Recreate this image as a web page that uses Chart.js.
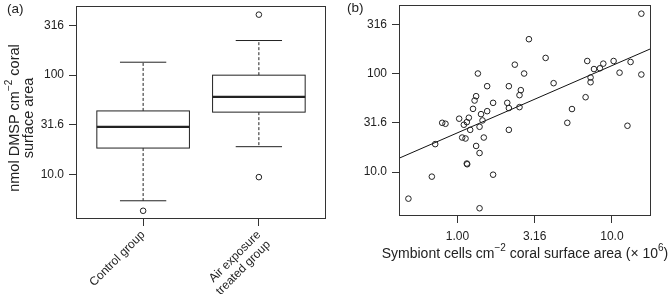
<!DOCTYPE html>
<html>
<head>
<meta charset="utf-8">
<script src="https://cdn.jsdelivr.net/npm/chart.js@4"></script>
<style>
  html, body { margin: 0; padding: 0; background: #fff; }
  #wrap { position: relative; width: 670px; height: 294px; }
  canvas { position: absolute; top: 0; }
  #chartA { left: 0; }
  #chartB { left: 335px; }
</style>
</head>
<body>
<div id="wrap">
  <canvas id="chartA" width="335" height="294"></canvas>
  <canvas id="chartB" width="335" height="294"></canvas>
</div>
<script>
// ---- data ----
const groupLabels = [['Control group'], ['Air exposure', 'treated group']];
const groupPos = [1, 2];
const boxLow = [5.46, 19.1];
const boxQ1 = [18.5, 42.5];
const boxMedian = [30.2, 60.5];
const boxQ3 = [43.7, 100];
const boxHigh = [135, 223];
const outlierGroup = [1, 2, 2];
const outlierValue = [4.33, 406, 9.44];

const yTicks = [10, 31.62, 100, 316.2];
const yTickLabels = ['10.0', '31.6', '100', '316'];
const xTicks = [1, 3.162, 10];
const xTickLabels = ['1.00', '3.16', '10.0'];

// symbiont cells (x 10^6) vs DMSP
const cells = [15.5, 2.90, 3.72, 2.35, 1.355, 2.70, 6.92, 10.25, 13.2, 8.79,
  7.65, 8.36, 11.2, 15.5, 4.19, 7.27, 7.27, 1.556, 2.15, 2.57,
  2.52, 1.32, 1.29, 1.70, 2.10, 2.15, 2.52, 1.26, 1.556, 1.42,
  6.75, 5.51, 1.025, 1.184, 1.149, 1.452, 0.796, 0.836, 1.099, 1.389,
  1.208, 5.14, 12.6, 2.15, 1.072, 1.127, 1.48, 0.717, 1.32, 1.389,
  1.149, 1.155, 1.70, 0.682, 0.481, 1.389];
const dmsp = [405, 223, 144, 123, 100, 100, 134, 134, 131, 126,
  111, 113, 102, 97.7, 79.8, 91.1, 81.6, 74.4, 74.4, 67.8,
  60.3, 58.9, 53.2, 50.4, 50.4, 44.6, 45.6, 43.8, 41.5, 38.7,
  57.5, 43.6, 34.8, 35.6, 32.1, 33.4, 31.6, 30.9, 30.2, 28.8,
  26.8, 31.6, 29.5, 26.8, 22.4, 21.9, 22.4, 19.2, 18.4, 15.6,
  12.2, 12.0, 9.40, 8.98, 5.37, 4.29];

// regression line end points (at the x-axis limits)
const fitX = [0.418, 17.9];
const fitY = [13.8, 179];

const yMin = 3.58, yMax = 496;
const xMin = 0.418, xMax = 17.9;

const INK = '#222';
const FRAME = '#333';
const FONT = '"Liberation Sans", Arial, sans-serif';

// draws text made of normal + superscript parts, centred on 0,0
function drawRich(ctx, parts, size) {
    const supSize = Math.round(size * 0.7);
    let w = 0;
    parts.forEach(p => {
        ctx.font = (p.sup ? supSize : size) + 'px ' + FONT;
        p.w = ctx.measureText(p.t).width;
        w += p.w;
    });
    let x = -w / 2;
    ctx.textAlign = 'left';
    ctx.textBaseline = 'middle';
    parts.forEach(p => {
        ctx.font = (p.sup ? supSize : size) + 'px ' + FONT;
        ctx.fillText(p.t, x, p.sup ? -size * 0.38 : 0);
        x += p.w;
    });
}

const framePlugin = {
    id: 'frame',
    afterDraw(chart) {
        const { ctx, chartArea: a } = chart;
        ctx.save();
        ctx.strokeStyle = FRAME;
        ctx.lineWidth = 1;
        ctx.strokeRect(Math.round(a.left) + 0.5, Math.round(a.top) + 0.5,
            Math.round(a.right - a.left) - 1, Math.round(a.bottom - a.top) - 1);
        ctx.restore();
    }
};

const boxPlugin = {
    id: 'boxes',
    beforeDatasetsDraw(chart) {
        const { ctx, scales: { x, y } } = chart;
        ctx.save();
        ctx.strokeStyle = INK;
        groupPos.forEach((pos, i) => {
            const xc = x.getPixelForValue(pos);
            const hw = x.getPixelForValue(pos + 0.4) - xc;
            const cw = hw / 2;
            const yLo = y.getPixelForValue(boxLow[i]);
            const y1 = y.getPixelForValue(boxQ1[i]);
            const ym = y.getPixelForValue(boxMedian[i]);
            const y3 = y.getPixelForValue(boxQ3[i]);
            const yHi = y.getPixelForValue(boxHigh[i]);

            // whiskers
            ctx.lineWidth = 1;
            ctx.setLineDash([3, 2]);
            ctx.beginPath();
            ctx.moveTo(xc, y3); ctx.lineTo(xc, yHi);
            ctx.moveTo(xc, y1); ctx.lineTo(xc, yLo);
            ctx.stroke();
            ctx.setLineDash([]);
            ctx.beginPath();
            ctx.moveTo(xc - cw, yHi); ctx.lineTo(xc + cw, yHi);
            ctx.moveTo(xc - cw, yLo); ctx.lineTo(xc + cw, yLo);
            ctx.stroke();

            // box
            ctx.fillStyle = '#fff';
            ctx.fillRect(xc - hw, y3, hw * 2, y1 - y3);
            ctx.strokeRect(xc - hw, y3, hw * 2, y1 - y3);

            // median
            ctx.lineWidth = 2.2;
            ctx.beginPath();
            ctx.moveTo(xc - hw, ym); ctx.lineTo(xc + hw, ym);
            ctx.stroke();
        });
        ctx.restore();
    }
};

const titlesA = {
    id: 'titlesA',
    afterDraw(chart) {
        const ctx = chart.ctx;
        ctx.save();
        ctx.fillStyle = INK;
        ctx.font = '13.5px ' + FONT;
        ctx.textAlign = 'left';
        ctx.textBaseline = 'middle';
        ctx.fillText('(a)', 7, 9);
        ctx.translate(15, 118);
        ctx.rotate(-Math.PI / 2);
        drawRich(ctx, [{ t: 'nmol DMSP cm' }, { t: '\u22122', sup: true }, { t: ' coral' }], 14.5);
        ctx.translate(0, 14);
        drawRich(ctx, [{ t: 'surface area' }], 14.5);
        ctx.restore();
    }
};

const titlesB = {
    id: 'titlesB',
    afterDraw(chart) {
        const ctx = chart.ctx;
        ctx.save();
        ctx.fillStyle = INK;
        ctx.font = '13.5px ' + FONT;
        ctx.textAlign = 'left';
        ctx.textBaseline = 'middle';
        ctx.fillText('(b)', 12, 8);
        ctx.translate(190, 254);
        drawRich(ctx, [
            { t: 'Symbiont cells cm' }, { t: '\u22122', sup: true },
            { t: ' coral surface area (\u00d7 10' }, { t: '6', sup: true }, { t: ')' }
        ], 14);
        ctx.restore();
    }
};

function yAxis(width) {
    return {
        type: 'logarithmic',
        min: yMin,
        max: yMax,
        afterBuildTicks(s) { s.ticks = yTicks.map(v => ({ value: v })); },
        afterFit(s) { s.width = width; s.paddingTop = 0; s.paddingBottom = 0; },
        ticks: {
            autoSkip: false,
            callback: (v, i) => yTickLabels[i],
            color: INK,
            padding: 5,
            font: { family: FONT, size: 12 }
        },
        grid: { drawOnChartArea: false, tickLength: 7, color: FRAME },
        border: { display: false }
    };
}

const outliers = outlierGroup.map((g, i) => ({ x: g, y: outlierValue[i] }));

new Chart(document.getElementById('chartA'), {
    type: 'scatter',
    data: {
        datasets: [{
            data: outliers,
            pointRadius: 2.8,
            borderColor: INK,
            backgroundColor: 'rgba(0,0,0,0)',
            borderWidth: 1
        }]
    },
    options: {
        responsive: false,
        animation: false,
        events: [],
        layout: { padding: { top: 6, right: 9, left: 0, bottom: 0 } },
        plugins: { legend: { display: false }, tooltip: { enabled: false } },
        scales: {
            x: {
                type: 'linear',
                min: 0.42,
                max: 2.58,
                afterBuildTicks(s) { s.ticks = groupPos.map(v => ({ value: v })); },
                afterFit(s) { s.height = 75; s.paddingLeft = 0; s.paddingRight = 0; },
                ticks: {
                    autoSkip: false,
                    callback: (v, i) => groupLabels[i],
                    maxRotation: 45,
                    minRotation: 45,
                    padding: 2,
                    color: INK,
                    font: { family: FONT, size: 12, lineHeight: 1.15 }
                },
                grid: { drawOnChartArea: false, tickLength: 7, color: FRAME },
                border: { display: false }
            },
            y: yAxis(76)
        }
    },
    plugins: [boxPlugin, framePlugin, titlesA]
});

const points = cells.map((c, i) => ({ x: c, y: dmsp[i] }));
const fitLine = fitX.map((v, i) => ({ x: v, y: fitY[i] }));

new Chart(document.getElementById('chartB'), {
    type: 'scatter',
    data: {
        datasets: [
            {
                data: points,
                pointRadius: 2.8,
                borderColor: INK,
                backgroundColor: 'rgba(0,0,0,0)',
                borderWidth: 1
            },
            {
                data: fitLine,
                showLine: true,
                pointRadius: 0,
                borderColor: '#111',
                borderWidth: 1
            }
        ]
    },
    options: {
        responsive: false,
        animation: false,
        events: [],
        layout: { padding: { top: 5, right: 19, left: 0, bottom: 0 } },
        plugins: { legend: { display: false }, tooltip: { enabled: false } },
        scales: {
            x: {
                type: 'logarithmic',
                min: xMin,
                max: xMax,
                afterBuildTicks(s) { s.ticks = xTicks.map(v => ({ value: v })); },
                afterFit(s) { s.height = 78; s.paddingLeft = 0; s.paddingRight = 0; },
                ticks: {
                    autoSkip: false,
                    maxRotation: 0,
                    callback: (v, i) => xTickLabels[i],
                    padding: 6,
                    color: INK,
                    font: { family: FONT, size: 12 }
                },
                grid: { drawOnChartArea: false, tickLength: 7, color: FRAME },
                border: { display: false }
            },
            y: yAxis(64)
        }
    },
    plugins: [framePlugin, titlesB]
});
</script>
</body>
</html>
